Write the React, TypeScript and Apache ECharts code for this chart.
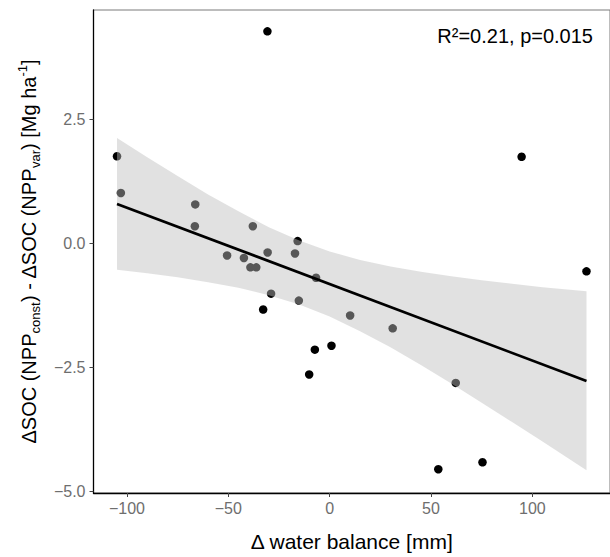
import React, { useEffect, useRef } from "react";
import * as echarts from "echarts";

// scatter points (Δ water balance [mm], ΔSOC difference [Mg ha-1])
const pointX = [-30.7, -104.9, -103.0, -66.3, -66.5, -37.9, -15.8, -50.6, -42.3, -39.1, -36.2, -30.6, -17.1, -6.7, -28.9, -15.2, -32.8, 10.1, 31.1, -7.3, 0.9, -10.1, 62.2, 53.6, 75.4, 94.7, 126.7];
const pointY = [4.27, 1.75, 1.01, 0.78, 0.34, 0.34, 0.04, -0.25, -0.3, -0.49, -0.49, -0.19, -0.21, -0.7, -1.02, -1.16, -1.34, -1.46, -1.72, -2.15, -2.07, -2.65, -2.82, -4.56, -4.42, 1.74, -0.57];

// fitted regression line end points
const fitX = [-104.9, 126.7];
const fitY = [0.79, -2.78];

// confidence band
const bandX = [-104.9, -90, -75, -60, -45, -30, -15, 0, 15, 30, 45, 60, 75, 90, 105, 126.7];
const bandUpper = [2.12, 1.73, 1.35, 0.98, 0.64, 0.32, 0.05, -0.17, -0.34, -0.47, -0.58, -0.67, -0.75, -0.82, -0.89, -0.97];
const bandLower = [-0.54, -0.61, -0.69, -0.79, -0.9, -1.05, -1.24, -1.48, -1.78, -2.1, -2.46, -2.83, -3.22, -3.61, -4.0, -4.58];

// axis ticks
const xTicks = [-100, -50, 0, 50, 100];
const yTicks = [-5, -2.5, 0, 2.5];

const FONT = '"Liberation Sans", Arial, sans-serif';

export default function App() {
  const ref = useRef<HTMLDivElement>(null);
  useEffect(() => {
    if (!ref.current) return;
    const chart = echarts.init(ref.current, undefined, { renderer: "svg" });
    const minus = (s: string) => s.replace("-", "\u2212");
    chart.setOption({
      animation: false,
      textStyle: { fontFamily: FONT },
      grid: {
        left: 93.5,
        right: -7.6,
        top: 10,
        bottom: 59,
        show: true,
        borderColor: "#7a7a7a",
        borderWidth: 1,
        backgroundColor: "transparent",
      },
      xAxis: {
        type: "value",
        min: -116.5,
        max: 138.3,
        splitLine: { show: false },
        axisLine: { show: true, onZero: false, lineStyle: { color: "#000", width: 1.3 } },
        axisTick: { show: true, length: 4, customValues: xTicks, lineStyle: { color: "#444" } },
        axisLabel: {
          customValues: xTicks,
          color: "#6e6e6e",
          fontSize: 16,
          fontFamily: FONT,
          margin: 7,
          formatter: (v: number) => minus(String(v)),
        },
        name: "\u0394 water balance [mm]",
        nameLocation: "middle",
        nameGap: 38,
        nameTextStyle: { color: "#000", fontSize: 21, fontFamily: FONT },
      },
      yAxis: {
        type: "value",
        min: -5.04,
        max: 4.7,
        splitLine: { show: false },
        axisLine: { show: true, onZero: false, lineStyle: { color: "#000", width: 1.3 } },
        axisTick: { show: true, length: 4, customValues: yTicks, lineStyle: { color: "#444" } },
        axisLabel: {
          customValues: yTicks,
          color: "#6e6e6e",
          fontSize: 16,
          fontFamily: FONT,
          margin: 8,
          formatter: (v: number) => minus(v.toFixed(1)),
        },
        name: "{m|\u0394SOC (NPP}{s|const}{m|) - \u0394SOC (NPP}{s|var}{m|) [Mg ha}{p|-1}{m|]}",
        nameLocation: "middle",
        nameRotate: 90,
        nameGap: 52,
        nameTextStyle: {
          color: "#000",
          fontFamily: FONT,
          rich: {
            m: { fontSize: 20, lineHeight: 26, color: "#000", fontFamily: FONT },
            s: { fontSize: 13, lineHeight: 14, verticalAlign: "bottom", color: "#000", fontFamily: FONT },
            p: { fontSize: 13, lineHeight: 14, verticalAlign: "top", color: "#000", fontFamily: FONT },
          },
        },
      },
      graphic: [
        {
          type: "text",
          x: 593,
          y: 35.5,
          style: {
            text: "R\u00b2=0.21, p=0.015",
            fontSize: 20,
            fontFamily: FONT,
            fill: "#000",
            align: "right",
            verticalAlign: "middle",
          },
        },
      ],
      series: [
        {
          type: "scatter",
          z: 2,
          symbolSize: 8.5,
          itemStyle: { color: "#000", opacity: 1 },
          data: pointX.map((x, i) => [x, pointY[i]]),
        },
        {
          type: "custom",
          z: 3,
          silent: true,
          data: bandX.map((x, i) => [x, bandUpper[i], bandLower[i]]),
          encode: { x: 0, y: [1, 2] },
          renderItem: (params: any, api: any) => {
            if (params.dataIndex !== 0) return null;
            const pts: number[][] = [];
            for (let i = 0; i < bandX.length; i++) pts.push(api.coord([bandX[i], bandUpper[i]]));
            for (let i = bandX.length - 1; i >= 0; i--) pts.push(api.coord([bandX[i], bandLower[i]]));
            return {
              type: "polygon",
              shape: { points: pts },
              style: { fill: "rgba(190,190,190,0.46)", stroke: "none" },
            };
          },
        },
        {
          type: "line",
          z: 4,
          symbol: "none",
          lineStyle: { color: "#000", width: 2.7 },
          data: fitX.map((x, i) => [x, fitY[i]]),
        },
      ],
    });
    return () => chart.dispose();
  }, []);
  return (
    <div
      ref={ref}
      style={{ position: "fixed", left: 0, top: 0, width: 610, height: 557, background: "#fff" }}
    />
  );
}
